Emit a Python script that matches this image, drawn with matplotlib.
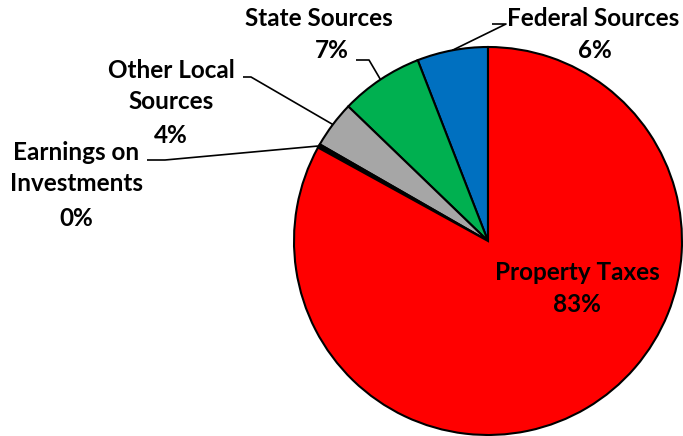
import numpy as np
import matplotlib.pyplot as plt

# data
sources = ['Federal Sources', 'State Sources', 'Other Local\nSources',
           'Earnings on\nInvestments', 'Property Taxes']
shares = [5.9, 6.9, 3.9, 0.3, 83.0]
pct_labels = ['6%', '7%', '4%', '0%', '83%']
colors = ['#0070C0', '#00B050', '#A6A6A6', '#000000', '#FF0000']

plt.rcParams['font.family'] = ['Lato', 'DejaVu Sans']

W, H = 683, 436
fig = plt.figure(figsize=(6.83, 4.36), dpi=100)
ax = fig.add_axes([0, 0, 1, 1])

cx, cy, r = 488, H - 241, 194
wedges, _ = ax.pie(shares, colors=colors, startangle=90, counterclock=True,
                   center=(cx, cy), radius=r, frame=True,
                   wedgeprops=dict(edgecolor='black', linewidth=1.5))
ax.set_xlim(0, W)
ax.set_ylim(0, H)
ax.set_aspect('equal')
ax.axis('off')

# label layout in pixel coords from top-left: name centre, pct centre, leader elbow
name_pos = [(593, 18), (319, 18), (171, 86), (76, 168), (577, 273)]
pct_pos = [(595, 50), (332, 50), (171, 135), (76, 218), (577, 304)]
elbows = [((492, 24), (506, 24)),
          ((356, 60), (369, 60)),
          ((243, 77), (251, 77)),
          ((147, 160), (165, 160))]
text_kw = dict(fontsize=17.5, fontweight='bold', ha='center', va='center',
               linespacing=1.45, color='black')

for i, w in enumerate(wedges[:4]):
    mid = np.deg2rad((w.theta1 + w.theta2) / 2)
    px, py = cx + r * np.cos(mid), cy + r * np.sin(mid)
    (x0, y0), (x1, y1) = elbows[i]
    ax.plot([x0, x1, px], [H - y0, H - y1, py], color='black', lw=1.2,
            solid_capstyle='butt', zorder=5)

for i in range(5):
    nx, ny = name_pos[i]
    qx, qy = pct_pos[i]
    ax.text(nx, H - ny, sources[i], zorder=6, **text_kw)
    ax.text(qx, H - qy, pct_labels[i], zorder=6, **text_kw)

fig.savefig('out.png', dpi=100)
